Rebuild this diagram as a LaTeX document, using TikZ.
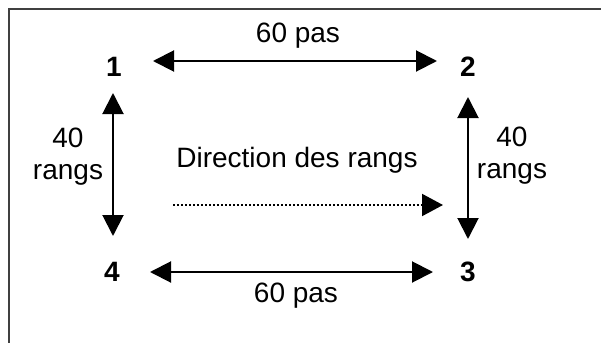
\documentclass[tikz,border=0pt]{standalone}
\usepackage{fontspec}
\setmainfont{Liberation Sans}
\usetikzlibrary{arrows.meta}
\begin{document}
\begin{tikzpicture}[x=0.5pt,y=-0.5pt,
  lbl/.style={font=\fontsize{14}{16}\selectfont, inner sep=0pt, align=center},
  num/.style={font=\fontsize{14}{16}\selectfont\bfseries, inner sep=0pt},
  dbl/.style={line width=1pt, {Triangle[length=10.5pt,width=10.5pt]}-{Triangle[length=10.5pt,width=10.5pt]}},
  dir/.style={line width=1pt, dash pattern=on 0.9pt off 1.1pt, -{Triangle[length=10.5pt,width=11pt]}},
  frame/.style={line width=1.3pt, draw=black!75}]
\useasboundingbox (0,0) rectangle (601,343);
\draw[frame] (9,343) -- (9,9) -- (601,9);
% corner numbers
\node[num] (n1) at (114,67) {1};
\node[num] (n2) at (468,67) {2};
\node[num] (n3) at (468,272) {3};
\node[num] (n4) at (112,272) {4};
% arrow end points
\coordinate (t1) at (153,61);
\coordinate (t2) at (437,61);
\coordinate (b1) at (150,272);
\coordinate (b2) at (433,272);
\coordinate (l1) at (113,93);
\coordinate (l2) at (113,236);
\coordinate (r1) at (468,97);
\coordinate (r2) at (468,239);
\coordinate (d1) at (173,205);
\coordinate (d2) at (443,205);
\draw[dbl] (t1) -- (t2);
\draw[dbl] (b1) -- (b2);
\draw[dbl] (l1) -- (l2);
\draw[dbl] (r1) -- (r2);
\draw[dir] (d1) -- (d2);
% labels
\node[lbl] (ltop) at (298,36) {60 pas};
\node[lbl] (lbot) at (296,296) {60 pas};
\node[lbl] (lleft) at (68,157) {40\\rangs};
\node[lbl] (lright) at (512,156) {40\\rangs};
\node[lbl] (ldir) at (297,160) {Direction des rangs};
\end{tikzpicture}
\end{document}
